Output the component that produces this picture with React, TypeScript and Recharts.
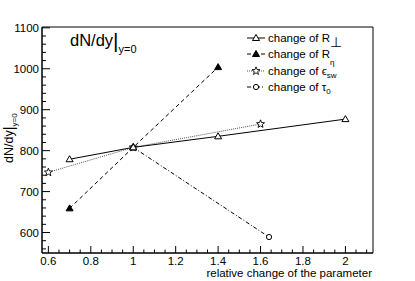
import React from 'react';
import { LineChart, Line, XAxis, YAxis, ReferenceArea } from 'recharts';

// values
const rPerpX = [0.7, 1, 1.4, 2];
const rPerpY = [779, 808, 835, 877];
const rEtaX = [0.7, 1, 1.4];
const rEtaY = [659, 808, 1004];
const epsX = [0.6, 1, 1.6];
const epsY = [747, 808, 865];
const tauX = [1, 1.64];
const tauY = [808, 589];

const xTickLabels = [0.6, 0.8, 1, 1.2, 1.4, 1.6, 1.8, 2];
const yTickLabels = [600, 700, 800, 900, 1000, 1100];

const toRows = (xs: number[], ys: number[]) => xs.map((x, i) => ({ x, y: ys[i] }));

const xTicks: number[] = [];
for (let k = 0; k <= 30; k++) xTicks.push(Math.round((0.6 + k * 0.05) * 100) / 100);
const yTicks: number[] = [];
for (let k = 0; k <= 27; k++) yTicks.push(560 + k * 20);

const FONT = 'Liberation Sans, Arial, sans-serif';

const triangle = (cx: number, cy: number, filled: boolean) => (
  <polygon
    points={`${cx - 3.5},${cy + 2.5} ${cx + 3.5},${cy + 2.5} ${cx},${cy - 3.5}`}
    fill={filled ? '#000' : '#fff'}
    stroke="#000"
    strokeWidth={1}
  />
);

const star = (cx: number, cy: number) => {
  const pts: string[] = [];
  for (let i = 0; i < 10; i++) {
    const r = i % 2 === 0 ? 4.2 : 1.8;
    const a = -Math.PI / 2 + (i * Math.PI) / 5;
    pts.push(`${cx + r * Math.cos(a)},${cy + r * Math.sin(a)}`);
  }
  return <polygon points={pts.join(' ')} fill="#fff" stroke="#000" strokeWidth={0.9} />;
};

const circle = (cx: number, cy: number) => (
  <circle cx={cx} cy={cy} r={2.6} fill="#fff" stroke="#000" strokeWidth={1} />
);

const XTick = ({ x, y, payload }: any) => {
  const major = xTickLabels.includes(payload.value);
  return (
    <g>
      <line x1={x} y1={y} x2={x} y2={y - (major ? 7 : 3.5)} stroke="#000" />
      {major && (
        <text x={x} y={y + 12} textAnchor="middle" fontSize={11.5} fontFamily={FONT} fill="#000">
          {payload.value}
        </text>
      )}
    </g>
  );
};

const YTick = ({ x, y, payload }: any) => {
  const major = yTickLabels.includes(payload.value);
  return (
    <g>
      <line x1={x} y1={y} x2={x + (major ? 8 : 4)} y2={y} stroke="#000" />
      {major && (
        <text x={x - 3} y={y + 4} textAnchor="end" fontSize={11.5} fontFamily={FONT} fill="#000">
          {payload.value}
        </text>
      )}
    </g>
  );
};

const legendRows = [
  { y: 38, dash: undefined, mark: (cx: number, cy: number) => triangle(cx, cy, false), name: 'R', sub: '⊥', big: true },
  { y: 54, dash: '4 3', mark: (cx: number, cy: number) => triangle(cx, cy, true), name: 'R', sub: 'η', big: false },
  { y: 71, dash: '1 1', mark: star, name: 'ϵ', sub: 'sw', big: false },
  { y: 87, dash: '4 2 1 2', mark: circle, name: 'τ', sub: '0', big: false },
];

const App: React.FC = () => {
  return (
    <div style={{ position: 'absolute', left: 0, top: 0, background: '#fff' }}>
      <LineChart width={415} height={281} margin={{ top: 27, right: 42, left: 0, bottom: 0 }}>
        <XAxis
          type="number"
          dataKey="x"
          domain={[0.57, 2.13]}
          allowDataOverflow
          ticks={xTicks}
          interval={0}
          tickSize={0}
          tickMargin={0}
          tick={<XTick />}
          height={28}
          axisLine={{ stroke: '#000' }}
        />
        <YAxis
          type="number"
          domain={[550, 1102]}
          allowDataOverflow
          ticks={yTicks}
          interval={0}
          tickSize={0}
          tickMargin={0}
          tick={<YTick />}
          width={42}
          axisLine={{ stroke: '#000' }}
        />
        <ReferenceArea x1={0.57} x2={2.13} y1={550} y2={1102} fill="none" stroke="#000" strokeWidth={1} />
        <Line
          data={toRows(epsX, epsY)}
          dataKey="y"
          stroke="#555"
          strokeWidth={1}
          strokeDasharray="1 1"
          dot={(p: any) => <g key={`e${p.index}`}>{star(p.cx, p.cy)}</g>}
          isAnimationActive={false}
        />
        <Line
          data={toRows(tauX, tauY)}
          dataKey="y"
          stroke="#000"
          strokeWidth={1}
          strokeDasharray="4 2 1 2"
          dot={(p: any) => <g key={`t${p.index}`}>{circle(p.cx, p.cy)}</g>}
          isAnimationActive={false}
        />
        <Line
          data={toRows(rEtaX, rEtaY)}
          dataKey="y"
          stroke="#000"
          strokeWidth={1}
          strokeDasharray="4 3"
          dot={(p: any) => <g key={`h${p.index}`}>{triangle(p.cx, p.cy, true)}</g>}
          isAnimationActive={false}
        />
        <Line
          data={toRows(rPerpX, rPerpY)}
          dataKey="y"
          stroke="#000"
          strokeWidth={1}
          dot={(p: any) => <g key={`p${p.index}`}>{triangle(p.cx, p.cy, false)}</g>}
          isAnimationActive={false}
        />

        {/* title */}
        <text x={70} y={46} fontSize={16.5} fontFamily={FONT} fill="#000">
          dN/dy
          <tspan fontSize={21} dy={2}>|</tspan>
          <tspan fontSize={11} dy={5}>y=0</tspan>
        </text>

        {/* y axis title */}
        <text transform="translate(13,163) rotate(-90)" fontSize={12.5} fontFamily={FONT} fill="#000">
          dN/dy
          <tspan fontSize={15} dy={1}>|</tspan>
          <tspan fontSize={8} dy={3}>y=0</tspan>
        </text>

        {/* x axis title */}
        <text x={372} y={277} textAnchor="end" fontSize={11.5} fontFamily={FONT} fill="#000">
          relative change of the parameter
        </text>

        {/* legend */}
        {legendRows.map((r, i) => (
          <g key={i}>
            <line x1={247} y1={r.y} x2={265} y2={r.y} stroke={i === 2 ? '#555' : '#000'} strokeDasharray={r.dash} />
            {r.mark(256, r.y)}
            <text x={268} y={r.y + 4} fontSize={11.5} fontFamily={FONT} fill="#000">
              change of {r.name}
              {r.big ? (
                <tspan fontSize={14} dy={5}>{r.sub}</tspan>
              ) : (
                <tspan fontSize={8} dy={r.name === 'R' ? 7 : 3}>{r.sub}</tspan>
              )}
            </text>
          </g>
        ))}
      </LineChart>
    </div>
  );
};

export default App;
